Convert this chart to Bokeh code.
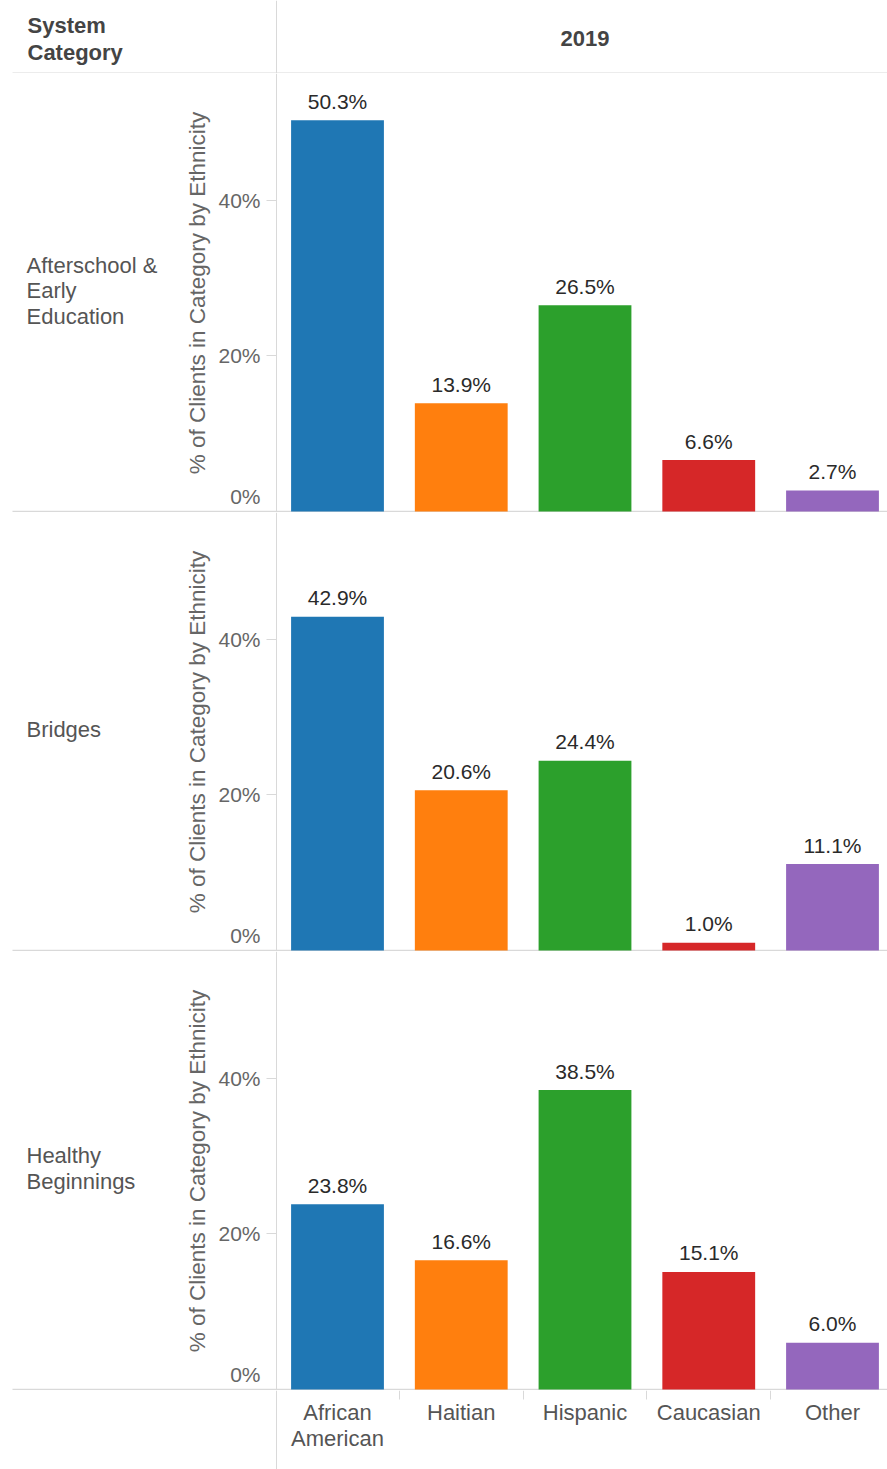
from bokeh.plotting import figure
from bokeh.layouts import column
from bokeh.models import Range1d, LinearAxis, FixedTicker, PrintfTickFormatter, ColumnDataSource, Span
from bokeh.core.properties import value
from bokeh.embed import file_html
from bokeh.resources import INLINE

# ---------------- data ----------------
YEAR = "2019"
HEADER_LEFT = "System\nCategory"
ETHNICITIES = ["African American", "Haitian", "Hispanic", "Caucasian", "Other"]
ETHNICITY_TICK_LABELS = ["African\nAmerican", "Haitian", "Hispanic", "Caucasian", "Other"]
SYSTEM_CATEGORIES = ["Afterschool & Early Education", "Bridges", "Healthy Beginnings"]
SYSTEM_CATEGORY_LABELS = ["Afterschool &\nEarly\nEducation", "Bridges", "Healthy\nBeginnings"]
AFTERSCHOOL = [50.3, 13.9, 26.5, 6.6, 2.7]
BRIDGES = [42.9, 20.6, 24.4, 1.0, 11.1]
HEALTHY = [23.8, 16.6, 38.5, 15.1, 6.0]
Y_TICKS = [0, 20, 40]
Y_TITLE = "% of Clients in Category by Ethnicity"
COLORS = ["#1f77b4", "#ff7f0e", "#2ca02c", "#d62728", "#9467bd"]

# ---------------- layout (pixels) ----------------
W = 887
HEADER_H = 73
PANEL_H = 439
BOTTOM_H = 79
CAT_PX = 123.75
FIRST_CX = 337
DIV_PX = 276
SEP_PX = 12
TEXT_LEFT_PX = 26
Y_PX = 7.775
FONT = "Liberation Sans"
LINE_C = "#d9d9d9"


def px_to_x(px):
    return (px - FIRST_CX) / CAT_PX


X0, X1 = px_to_x(0), px_to_x(W)
X_DIV = px_to_x(DIV_PX)
X_SEP = px_to_x(SEP_PX)
X_TEXT = px_to_x(TEXT_LEFT_PX)
Y0 = -1.1 / Y_PX
Y1 = Y0 + PANEL_H / Y_PX
IDX = list(range(len(ETHNICITIES)))


def base_fig(h, y_range):
    p = figure(width=W, height=h, x_range=Range1d(X0, X1), y_range=y_range,
               x_axis_type=None, y_axis_type=None, toolbar_location=None,
               output_backend="svg", min_border=0)
    p.outline_line_color = None
    p.background_fill_color = "white"
    p.border_fill_color = "white"
    return p


# ---------------- header ----------------
header = base_fig(HEADER_H, Range1d(0, HEADER_H))
header.text(x=[px_to_x(27)], y=[HEADER_H - 38], text=[HEADER_LEFT], text_font=value(FONT),
            text_font_size="22px", text_font_style="bold", text_color="#444444",
            text_align="left", text_baseline="middle", text_line_height=1.08)
header.text(x=[(len(ETHNICITIES) - 1) / 2], y=[HEADER_H - 38], text=[YEAR], text_font=value(FONT),
            text_font_size="22px", text_font_style="bold", text_color="#444444",
            text_align="center", text_baseline="middle")
header.add_layout(Span(location=X_DIV, dimension="height", line_color=LINE_C, line_width=1))
header.segment(x0=[X_SEP], y0=[0.5], x1=[X1], y1=[0.5], line_color=LINE_C, line_width=1.2)

figs = [header]
series = [AFTERSCHOOL, BRIDGES, HEALTHY]
for name, label, vals in zip(SYSTEM_CATEGORIES, SYSTEM_CATEGORY_LABELS, series):
    p = base_fig(PANEL_H, Range1d(Y0, Y1))
    p.segment(x0=[X_SEP], y0=[0], x1=[X1], y1=[0], line_color=LINE_C, line_width=1.2)
    src = ColumnDataSource(dict(x=IDX, top=vals, color=COLORS, cat=ETHNICITIES,
                                lab=[f"{v:.1f}%" for v in vals]))
    p.vbar(x="x", top="top", bottom=0, width=0.75, color="color", line_color=None, source=src)
    p.text(x="x", y="top", text="lab", source=src, text_font=value(FONT), text_font_size="21px",
           text_color="#2a2a2a", text_align="center", text_baseline="bottom", y_offset=-7.5)
    p.text(x=[X_TEXT], y=[(Y0 + Y1) / 2 + 2.5 / Y_PX], text=[label], text_font=value(FONT),
           text_font_size="22px", text_color="#555555", text_align="left",
           text_baseline="middle", text_line_height=1.02)

    yax = LinearAxis(fixed_location=X_DIV, ticker=FixedTicker(ticks=Y_TICKS),
                     formatter=PrintfTickFormatter(format="%d%%"))
    yax.major_label_overrides = {0: ""}
    yax.axis_label = Y_TITLE
    yax.axis_label_text_font = FONT
    yax.axis_label_text_font_size = "22.5px"
    yax.axis_label_text_font_style = "normal"
    yax.axis_label_text_color = "#666666"
    yax.axis_label_standoff = 5
    yax.axis_line_color = LINE_C
    yax.major_tick_line_color = LINE_C
    yax.major_tick_out = 10
    yax.major_tick_in = 0
    yax.minor_tick_line_color = None
    yax.major_label_standoff = 6
    yax.major_label_text_font = FONT
    yax.major_label_text_font_size = "21px"
    yax.major_label_text_color = "#666666"
    p.add_layout(yax, "left")

    # "0%" label lifted into the panel, as the reference draws it
    z_at = Y_TICKS[0] + 15 / Y_PX
    zax = LinearAxis(fixed_location=X_DIV, ticker=FixedTicker(ticks=[z_at]),
                     major_label_overrides={z_at: f"{Y_TICKS[0]}%"})
    zax.axis_line_color = None
    zax.major_tick_line_color = None
    zax.minor_tick_line_color = None
    zax.major_tick_out = 10
    zax.major_label_standoff = 6
    zax.major_label_text_font = FONT
    zax.major_label_text_font_size = "21px"
    zax.major_label_text_color = "#666666"
    p.add_layout(zax, "left")
    figs.append(p)

# ---------------- bottom category axis ----------------
bottom = base_fig(BOTTOM_H, Range1d(0, BOTTOM_H))
bottom.add_layout(Span(location=X_DIV, dimension="height", line_color=LINE_C, line_width=1))
xax = LinearAxis(fixed_location=BOTTOM_H,
                 ticker=FixedTicker(ticks=IDX, minor_ticks=[i + 0.5 for i in IDX[:-1]]))
xax.major_label_overrides = {i: t for i, t in zip(IDX, ETHNICITY_TICK_LABELS)}
xax.axis_line_color = None
xax.major_tick_line_color = None
xax.major_tick_out = 0
xax.major_tick_in = 0
xax.minor_tick_line_color = LINE_C
xax.minor_tick_out = 9
xax.minor_tick_in = 0
xax.major_label_standoff = 0
xax.major_label_text_font = FONT
xax.major_label_text_font_size = "22px"
xax.major_label_text_line_height = 1.04
xax.major_label_text_color = "#555555"
bottom.add_layout(xax, "below")
figs.append(bottom)

layout = column(*figs, spacing=0)
open("out.html", "w").write(file_html(layout, INLINE))
